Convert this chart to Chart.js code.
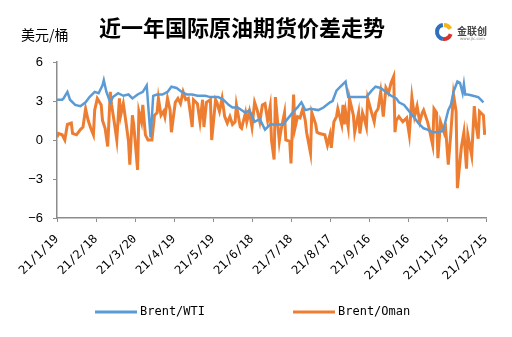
<!DOCTYPE html>
<html>
<head>
<meta charset="utf-8">
<script src="https://cdn.jsdelivr.net/npm/chart.js@4"></script>
<style>
html, body { margin: 0; padding: 0; background: #fff; }
#wrap { width: 512px; height: 337px; }
</style>
</head>
<body>
<div id="wrap"><canvas id="c"></canvas></div>
<script>
// x 軸日期標籤（每 30 天一格）
const dateLabels = ['21/1/19', '21/2/18', '21/3/20', '21/4/19', '21/5/19', '21/6/18',
    '21/7/18', '21/8/17', '21/9/16', '21/10/16', '21/11/15', '21/12/15'];

// Brent/WTI 價差：距 21/1/19 的天數與數值（美元/桶）
const wtiDays = [0, 4, 5, 8, 10, 14, 18, 22, 25, 29, 32, 35, 36, 38, 41, 43, 47, 51, 55, 58,
    62, 66, 69, 72, 74, 77, 81, 85, 88, 92, 96, 100, 104, 108, 114, 118, 124, 128, 132, 135,
    139, 145, 148, 152, 156, 160, 164, 168, 174, 178, 182, 185, 188, 191, 195, 201, 205, 210, 212, 215,
    218, 222, 224, 228, 233, 238, 242, 245, 249, 253, 257, 261, 263, 267, 271, 275, 278, 282, 285, 289,
    293, 297, 299, 301, 303, 305, 308, 310, 312, 313, 314, 316, 320, 324, 326, 328];
const wtiSpread = [3.1, 3.1, 3.2, 3.7, 3.1, 2.7, 2.6, 2.9, 3.3, 3.7, 3.6, 4.2, 4.6, 3.7, 2.9, 3.3, 3.6, 3.4, 3.5, 3.2,
    3.5, 3.7, 4.2, 0.2, 3.4, 3.5, 3.5, 3.7, 4.1, 4.0, 3.7, 3.5, 3.5, 3.4, 3.4, 3.3, 3.3, 3.1, 2.7, 2.5,
    2.5, 2.1, 2.3, 1.4, 1.6, 0.8, 1.2, 1.2, 1.2, 1.7, 2.2, 2.5, 2.9, 2.3, 2.4, 2.3, 2.5, 2.9, 3.0, 3.8,
    4.1, 4.5, 3.3, 3.3, 3.3, 3.3, 3.8, 4.1, 4.0, 3.7, 3.4, 3.2, 2.9, 2.7, 2.2, 1.7, 1.3, 0.9, 0.8, 0.6,
    0.6, 0.7, 1.5, 2.3, 2.7, 3.7, 4.5, 4.4, 3.6, 4.3, 3.5, 3.5, 3.4, 3.3, 3.1, 2.9];

// Brent/Oman 價差
const omanDays = [0, 1, 4, 6, 8, 11, 12, 15, 18, 20, 22, 24, 26, 28, 29, 31, 34, 35, 37, 39,
    41, 42, 44, 46, 48, 49, 51, 53, 55, 56, 58, 59, 62, 63, 65, 66, 68, 70, 73, 75,
    77, 78, 80, 82, 83, 85, 87, 88, 91, 93, 95, 97, 99, 101, 104, 105, 108, 110, 112, 113,
    115, 118, 119, 122, 123, 125, 127, 129, 131, 133, 135, 137, 138, 141, 142, 145, 146, 148, 150, 152,
    154, 156, 158, 160, 162, 164, 165, 167, 168, 171, 172, 175, 176, 179, 180, 182, 183, 185, 187, 189,
    191, 192, 195, 196, 199, 200, 202, 206, 208, 210, 211, 213, 215, 216, 219, 220, 221, 222, 224, 225,
    228, 229, 232, 233, 235, 236, 238, 239, 242, 244, 245, 247, 249, 251, 253, 255, 257, 259, 260, 261,
    263, 266, 269, 271, 273, 275, 277, 279, 281, 282, 285, 286, 289, 290, 292, 293, 295, 298, 299, 301,
    303, 305, 307, 308, 311, 313, 315, 316, 319, 321, 322, 324, 325, 328, 329];
const omanSpread = [0.2, 0.5, 0.4, 0.0, 1.2, 1.3, 0.5, 0.4, 0.8, 1.0, 2.4, 1.5, 0.9, 0.4, 2.3, 3.2, 2.7, 1.5, 0.9, -0.5,
    3.7, 2.7, 1.4, 0.0, 3.2, 1.9, 2.8, 1.4, -0.1, -1.9, 1.9, 1.2, -2.3, 2.2, 1.4, 2.7, 0.4, 0.0, 0.0, 1.9,
    2.1, 3.2, 1.9, 2.2, 1.8, 3.2, 2.3, 0.6, 2.9, 3.2, 2.8, 3.7, 3.1, 3.2, 1.0, 3.1, 2.8, 1.4, 3.1, 1.0,
    2.9, 3.1, 0.0, 3.1, 2.9, 2.2, 3.2, 1.8, 1.3, 1.8, 1.2, 1.4, 2.7, 1.0, 0.9, 2.1, 1.4, 2.2, 1.0, 2.9,
    2.3, 1.4, 2.7, 2.8, 1.5, 2.6, 0.0, -1.5, 3.3, -0.1, 0.6, 2.1, 0.0, -0.1, -1.8, 3.5, 0.9, 1.8, 1.7, 2.4,
    1.5, 0.6, -1.0, 2.1, 1.2, 0.6, 0.5, 0.4, -0.4, 0.4, -0.6, 1.4, 1.8, 2.4, 1.2, 2.7, 1.2, 2.2, 1.0, 3.2,
    1.9, 0.6, 2.1, 0.5, 2.1, 1.8, 1.0, 3.2, 2.1, 1.4, 2.1, 2.4, 3.7, 1.8, 4.0, 3.6, 4.4, 4.9, 0.6, 1.5,
    1.8, 1.4, 1.7, 0.4, 3.3, 1.8, 2.6, 1.4, 2.1, 2.3, 1.4, 1.0, -0.4, 2.4, 2.1, -1.4, 1.4, 0.5, 0.8, -1.9,
    0.6, 3.5, 2.2, -3.7, -0.6, 0.6, -2.2, 0.4, -1.2, 2.6, 1.4, 0.1, 2.2, 1.9, 0.4];

const toPoints = (days, vals) => days.map((d, i) => ({ x: d, y: vals[i] }));

const axisColor = '#8c8c8c';
const monoFont = "'DejaVu Sans Mono', monospace";

// 標題、單位、標誌與圖例
const decor = {
    id: 'decor',
    afterDraw(chart) {
        const c = chart.ctx;
        c.save();
        c.fillStyle = '#000';
        c.textBaseline = 'middle';
        c.textAlign = 'center';
        c.font = "bold 22px 'Noto Sans CJK SC'";
        c.fillText('近一年国际原油期货价差走势', 242, 28);
        c.textAlign = 'left';
        c.font = "14px 'Noto Sans CJK SC'";
        c.fillText('美元/桶', 21, 35);

        // 金聯創 logo
        c.lineWidth = 4;
        c.strokeStyle = '#2f6fc0';
        c.beginPath(); c.arc(444, 32, 7, Math.PI * 0.55, Math.PI * 1.45); c.stroke();
        c.strokeStyle = '#d9342b';
        c.beginPath(); c.arc(444, 32, 7, Math.PI * 0.1, Math.PI * 0.55); c.stroke();
        c.strokeStyle = '#f2b51c';
        c.beginPath(); c.arc(444, 32, 7, Math.PI * 1.5, Math.PI * 1.85); c.stroke();
        c.fillStyle = '#444';
        c.font = "bold 10px 'Noto Sans CJK SC'";
        c.fillText('金联创', 457, 31);
        c.font = "4px 'DejaVu Sans'";
        c.fillStyle = '#888';
        c.fillText('www.jlc.com', 460, 39);

        // 圖例
        c.font = '12px ' + monoFont;
        c.fillStyle = '#000';
        c.lineWidth = 3;
        const items = [[95, 0], [293, 1]];
        items.forEach(([x, i]) => {
            const ds = chart.data.datasets[i];
            c.strokeStyle = ds.borderColor;
            c.beginPath(); c.moveTo(x, 312); c.lineTo(x + 42, 312); c.stroke();
            c.fillText(ds.label, x + 45, 312);
        });
        c.restore();
    }
};

new Chart(document.getElementById('c'), {
    type: 'line',
    data: {
        datasets: [
            {
                label: 'Brent/WTI',
                data: toPoints(wtiDays, wtiSpread),
                borderColor: '#5b9bd5',
                borderWidth: 2.5,
                pointRadius: 0,
                tension: 0,
            },
            {
                label: 'Brent/Oman',
                data: toPoints(omanDays, omanSpread),
                borderColor: '#ed7d31',
                borderWidth: 3,
                pointRadius: 0,
                tension: 0,
            }
        ]
    },
    options: {
        responsive: true,
        maintainAspectRatio: false,
        animation: false,
        layout: { padding: { top: 62, right: 26, left: 0, bottom: 0 } },
        plugins: {
            legend: { display: false },
            tooltip: { enabled: false },
        },
        scales: {
            x: {
                type: 'linear',
                min: 0,
                max: 330,
                grid: { drawOnChartArea: false, drawTicks: true, tickLength: 4, color: axisColor },
                border: { color: axisColor, width: 1.5 },
                ticks: {
                    stepSize: 30,
                    autoSkip: false,
                    minRotation: 45,
                    maxRotation: 45,
                    padding: 10,
                    color: '#000',
                    font: { family: monoFont, size: 12 },
                    callback: (v) => dateLabels[Math.round(v / 30)],
                },
                afterFit: (s) => { s.height = 119; },
            },
            y: {
                min: -6,
                max: 6,
                grid: { drawOnChartArea: false, drawTicks: true, tickLength: 4, color: axisColor },
                border: { color: axisColor, width: 1.5 },
                ticks: {
                    stepSize: 3,
                    padding: 10,
                    color: '#000',
                    font: { family: "'Liberation Sans'", size: 13 },
                    callback: (v) => (v < 0 ? '\u2212' + Math.abs(v) : String(v)),
                },
                afterFit: (s) => { s.width = 57; },
            },
        },
    },
    plugins: [decor],
});
</script>
</body>
</html>
